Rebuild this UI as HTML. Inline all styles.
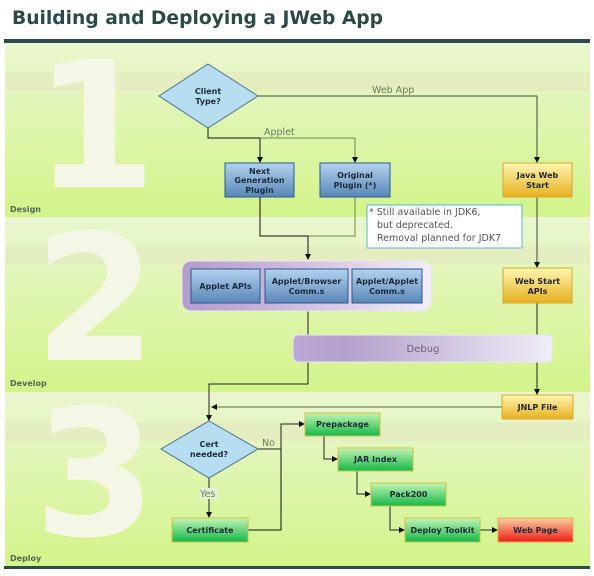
<!DOCTYPE html>
<html><head><meta charset="utf-8"><style>
html,body{margin:0;padding:0;background:#fff;width:594px;height:576px;overflow:hidden}
svg{display:block}
.n{font-family:"DejaVu Sans","Liberation Sans",sans-serif;font-weight:bold;font-size:8px;fill:#1e2a3a;text-anchor:middle}
.l{font-family:"DejaVu Sans","Liberation Sans",sans-serif;font-size:9.5px;fill:#6a7a5a}
.big{font-family:"DejaVu Sans","Liberation Sans",sans-serif;font-weight:bold;font-size:176px;fill:#f4f6e6}
.bl{font-family:"DejaVu Sans","Liberation Sans",sans-serif;font-weight:bold;font-size:8px;fill:#556655}
</style></head><body>
<svg width="594" height="576" viewBox="0 0 594 576" xmlns="http://www.w3.org/2000/svg">
<defs>
<linearGradient id="band" x1="0" y1="0" x2="0" y2="1"><stop offset="0" stop-color="#eaf6d0"/><stop offset="1" stop-color="#d2f48a"/></linearGradient>
<linearGradient id="blue" x1="0" y1="0" x2="0" y2="1"><stop offset="0" stop-color="#b4d2f0"/><stop offset="1" stop-color="#5887b8"/></linearGradient>
<linearGradient id="yel" x1="0" y1="0" x2="0" y2="1"><stop offset="0" stop-color="#fff6b0"/><stop offset="1" stop-color="#e8b020"/></linearGradient>
<linearGradient id="grn" x1="0" y1="0" x2="0" y2="1"><stop offset="0" stop-color="#c4f4b4"/><stop offset="1" stop-color="#12b848"/></linearGradient>
<linearGradient id="red" x1="0" y1="0" x2="0" y2="1"><stop offset="0" stop-color="#fad0a0"/><stop offset="1" stop-color="#ee1c18"/></linearGradient>
<linearGradient id="pur" x1="0" y1="0" x2="1" y2="0"><stop offset="0" stop-color="#b49ccc"/><stop offset="0.3" stop-color="#c4b0d8"/><stop offset="1" stop-color="#f2eef8"/></linearGradient>
<linearGradient id="pur2" x1="0" y1="0" x2="1" y2="0"><stop offset="0" stop-color="#bca8d4"/><stop offset="0.2" stop-color="#b4a0cc"/><stop offset="1" stop-color="#f0ecf8"/></linearGradient>
<marker id="a" markerWidth="6" markerHeight="6" refX="5" refY="3" orient="auto" markerUnits="userSpaceOnUse"><path d="M0,0 L6,3 L0,6 z" fill="#111"/></marker>
</defs>
<text x="12" y="24" textLength="371" lengthAdjust="spacingAndGlyphs" style="font-family:'DejaVu Sans','Liberation Sans',sans-serif;font-weight:bold;font-size:19px;fill:#2a4a4a">Building and Deploying a JWeb App</text>
<rect x="5" y="42" width="585" height="175" fill="url(#band)"/>
<rect x="5" y="72" width="585" height="19" fill="#e4edbf"/>
<rect x="5" y="217" width="585" height="175" fill="url(#band)"/>
<rect x="5" y="246" width="585" height="18" fill="#e4edbf"/>
<rect x="5" y="392" width="585" height="175" fill="url(#band)"/>
<rect x="5" y="422" width="585" height="19" fill="#e4edbf"/>
<rect x="4" y="39" width="586" height="4" fill="#2e4a4a"/>
<rect x="4" y="566" width="586" height="3" fill="#2e4a4a"/>
<text class="big" x="34" y="187">1</text>
<text class="big" x="34" y="360">2</text>
<text class="big" x="34" y="535">3</text>
<text class="bl" x="10" y="212">Design</text>
<text class="bl" x="10" y="386">Develop</text>
<text class="bl" x="10" y="561">Deploy</text>
<g fill="none" stroke-width="1">
<path d="M258,96 H537 V162" stroke="#3a4a3a" marker-end="url(#a)"/>
<path d="M208,128 V138 H260 V162" stroke="#111" marker-end="url(#a)"/>
<path d="M260,138 H355 V162" stroke="#6a8a4a" marker-end="url(#a)"/>
<path d="M260,197 V236 H308 V259" stroke="#111" marker-end="url(#a)"/>
<path d="M355,197 V236 H308" stroke="#6a8a4a"/>
<path d="M537,197 V267" stroke="#3a4a3a" marker-end="url(#a)"/>
<path d="M308,311 V335" stroke="#222"/>
<path d="M308,362 V384 H209 V420" stroke="#222" marker-end="url(#a)"/>
<path d="M537,303 V335 M537,362 V394" stroke="#222" marker-end="url(#a)"/>
<path d="M502,407 H212" stroke="#5a6a4a" marker-end="url(#a)"/>
<path d="M258,449 H281 V424 H304" stroke="#222" marker-end="url(#a)"/>
<path d="M248,530 H281 V449" stroke="#111"/>
<path d="M209,478 V517" stroke="#222" marker-end="url(#a)"/>
<path d="M324,436 V459 H337" stroke="#222" marker-end="url(#a)"/>
<path d="M357,471 V494 H370" stroke="#222" marker-end="url(#a)"/>
<path d="M390,506 V530 H404" stroke="#222" marker-end="url(#a)"/>
<path d="M480,530 H497" stroke="#222" marker-end="url(#a)"/>
</g>
<text class="l" x="372" y="93">Web App</text>
<text class="l" x="264" y="135">Applet</text>
<text class="l" x="262" y="446">No</text>
<rect x="199" y="488" width="19" height="11" fill="#e6eed4"/>
<text class="l" x="200" y="497">Yes</text>
<polygon points="208,64 258,96 208,128 159,96" fill="#b6def0" stroke="#4a6f90"/>
<text class="n" x="208" y="94">Client</text><text class="n" x="208" y="104">Type?</text>
<polygon points="209,421 258,449 209,478 161,449" fill="#b6def0" stroke="#4a6f90"/>
<text class="n" x="209" y="447">Cert</text><text class="n" x="209" y="457">needed?</text>
<rect x="225" y="163" width="69" height="34" fill="url(#blue)" stroke="#2c5a8a"/>
<text class="n" x="259.5" y="174">Next</text><text class="n" x="259.5" y="183">Generation</text><text class="n" x="259.5" y="193">Plugin</text>
<rect x="320" y="163" width="70" height="34" fill="url(#blue)" stroke="#2c5a8a"/>
<text class="n" x="355" y="178">Original</text><text class="n" x="355" y="188">Plugin (*)</text>
<rect x="367" y="205" width="155" height="43" fill="#fff" stroke="#5ab4d4"/>
<text class="l" x="369" y="215" style="fill:#556">* Still available in JDK6,</text>
<text class="l" x="377" y="228" style="fill:#556">but deprecated.</text>
<text class="l" x="377" y="241" style="fill:#556">Removal planned for  JDK7</text>
<rect x="503" y="163" width="69" height="34" fill="url(#yel)" stroke="#d4a830"/>
<text class="n" x="537.5" y="178">Java Web</text><text class="n" x="537.5" y="188">Start</text>
<rect x="503" y="268" width="69" height="35" fill="url(#yel)" stroke="#d4a830"/>
<text class="n" x="537.5" y="284">Web Start</text><text class="n" x="537.5" y="294">APIs</text>
<rect x="502" y="395" width="71" height="24" fill="url(#yel)" stroke="#d4a830"/>
<text class="n" x="537.5" y="410">JNLP File</text>
<rect x="182" y="261" width="249" height="50" rx="9" fill="url(#pur)" stroke="#ece6f4"/>
<rect x="191" y="269" width="69" height="34" fill="url(#blue)" stroke="#2c5a8a"/>
<text class="n" x="225.5" y="289">Applet APIs</text>
<rect x="265" y="269" width="83" height="34" fill="url(#blue)" stroke="#2c5a8a"/>
<text class="n" x="306.5" y="284">Applet/Browser</text><text class="n" x="306.5" y="294">Comm.s</text>
<rect x="352" y="269" width="70" height="34" fill="url(#blue)" stroke="#2c5a8a"/>
<text class="n" x="387" y="284">Applet/Applet</text><text class="n" x="387" y="294">Comm.s</text>
<rect x="293" y="335" width="259" height="27" rx="5" fill="url(#pur2)" stroke="#ece6f4"/>
<text class="l" x="423" y="352" style="font-size:10px;fill:#667;text-anchor:middle">Debug</text>
<rect x="172" y="518" width="76" height="24" fill="url(#grn)" stroke="#d0c040"/>
<text class="n" x="210" y="533">Certificate</text>
<rect x="305" y="413" width="75" height="23" fill="url(#grn)" stroke="#d0c040"/>
<text class="n" x="342.5" y="427">Prepackage</text>
<rect x="338" y="448" width="75" height="23" fill="url(#grn)" stroke="#d0c040"/>
<text class="n" x="375.5" y="462">JAR Index</text>
<rect x="371" y="483" width="75" height="23" fill="url(#grn)" stroke="#d0c040"/>
<text class="n" x="408.5" y="497">Pack200</text>
<rect x="405" y="518" width="75" height="24" fill="url(#grn)" stroke="#d0c040"/>
<text class="n" x="442.5" y="533">Deploy Toolkit</text>
<rect x="498" y="518" width="75" height="24" fill="url(#red)" stroke="#e0b040"/>
<text class="n" x="535.5" y="533">Web Page</text>
</svg>
</body></html>
